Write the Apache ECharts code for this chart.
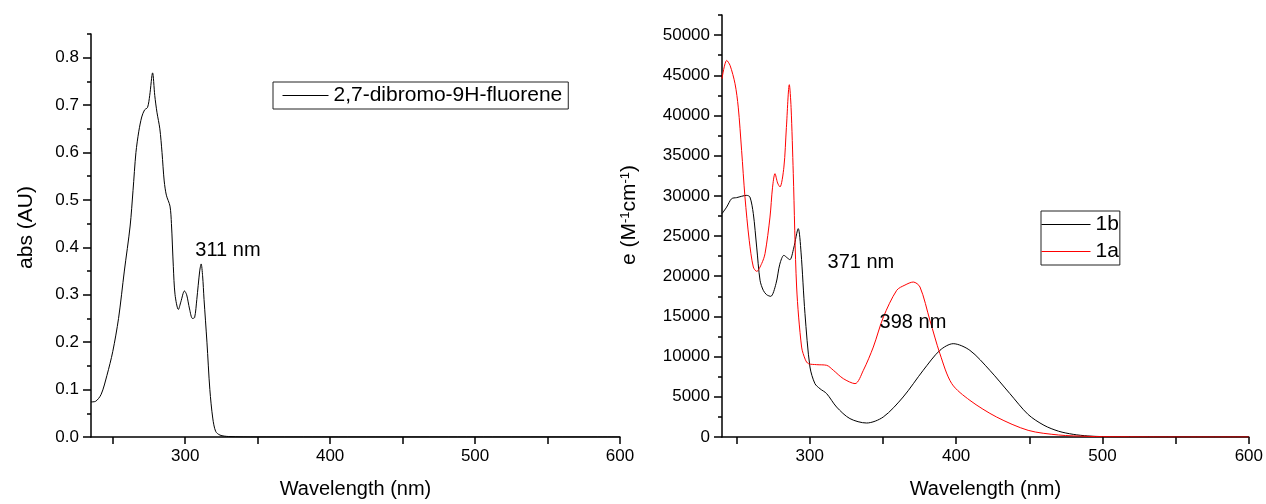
<!DOCTYPE html>
<html>
<head>
<meta charset="utf-8">
<script src="https://cdn.jsdelivr.net/npm/echarts@6.0.0/dist/echarts.min.js"></script>
<style>
html,body{margin:0;padding:0;background:#fff;}
#chart{width:1266px;height:504px;}
</style>
</head>
<body>
<div id="chart"></div>
<script>
// ---------- Data ----------
// Left panel: 2,7-dibromo-9H-fluorene absorbance
const dbfName = '2,7-dibromo-9H-fluorene';
const dbfWl  = [235,238,242,246,250,254,258,262,264,266,268,270,272,274,275.5,277.5,279,280.5,282.5,284,285.5,287,289.5,290.5,291.8,293,295.3,297,299.5,301,303,305,306.5,308,310,311,312,313,315,317,319,321,324,330,350,400,450,500,550,600];
const dbfAbs = [0.074,0.075,0.09,0.13,0.18,0.25,0.35,0.445,0.52,0.60,0.645,0.675,0.69,0.695,0.72,0.768,0.72,0.685,0.65,0.60,0.54,0.51,0.487,0.45,0.36,0.30,0.269,0.285,0.308,0.30,0.27,0.25,0.252,0.29,0.35,0.365,0.34,0.29,0.2,0.1,0.04,0.012,0.004,0.001,0,0,0,0,0,0];

// Right panel: molar absorptivity
const s1bName = '1b';
const s1bWl  = [240,243.2,246.6,250,256.9,259.1,261.4,263.7,266,268.2,270.5,273.3,276.9,279.5,282.3,284.5,286.4,289,292.1,294,296.7,300.1,303.5,307,311.5,318.3,327.4,338.8,350.2,363.8,377.5,388.9,398,409.4,423,436.7,449.2,460,470,480,490,500,520,550,600];
const s1bEps = [27780,28610,29650,29780,30060,29850,27780,23630,19490,18250,17700,17500,19080,21500,22600,22300,22060,23500,25920,23000,15350,8710,6640,6000,5400,3730,2290,1740,2490,4980,8300,10780,11610,10780,8300,5400,2800,1460,720,330,130,50,5,0,0];

const s1aName = '1a';
const s1aWl  = [240,243.2,245.5,248.9,251.1,253.4,255.7,258.6,261.4,263.7,267.1,269.4,272.8,274.5,276.2,278,279.6,282.3,284,286,287.2,288.7,291,294.4,297,299,304.7,311.5,316.1,322.9,330.9,336.6,343.4,350.3,359.4,365,370.7,375.3,382.1,388.9,397,409.4,427.6,449.2,470,490,500,550,600];
const s1aEps = [44580,46850,46230,43950,41040,35660,29850,24470,21150,20610,21570,22810,27360,31000,32760,31600,31100,33580,38500,43830,41000,32800,18660,11190,9600,9130,9000,8920,8300,7260,6640,8300,11190,14930,18250,18900,19280,18660,14510,10370,6640,4560,2490,830,250,80,40,0,0];

// Tick values / labels
const leftXTicks  = [250,300,350,400,450,500,550,600];
const leftXLabels = [300,400,500,600];
const leftYMajor  = [0,0.1,0.2,0.3,0.4,0.5,0.6,0.7,0.8];
const leftYMinor  = [0.05,0.15,0.25,0.35,0.45,0.55,0.65,0.75,0.85];
const rightXTicks  = [250,300,350,400,450,500,550,600];
const rightXLabels = [300,400,500,600];
const rightYMajor  = [0,5000,10000,15000,20000,25000,30000,35000,40000,45000,50000];
const rightYMinor  = [2500,7500,12500,17500,22500,27500,32500,37500,42500,47500,52500];

// Annotations
const annoLeft  = [{text:'311 nm', x:329.5, y:0.394}];
const annoRight = [{text:'371 nm', x:334.9, y:21670},{text:'398 nm', x:370.5, y:14200}];

// ---------- Chart ----------
const FONT = "'Liberation Sans', Arial, sans-serif";
const zip = (a,b) => a.map((v,i)=>[v,b[i]]);
const axisLineStyle = {color:'#000', width:1.5};

function xAxisCfg(grid, min, max, ticks, labels){
  return {
    gridIndex: grid, type:'value', min:min, max:max,
    axisLine:{show:true, onZero:false, lineStyle:axisLineStyle},
    axisTick:{show:true, inside:false, length:7, customValues:ticks, lineStyle:axisLineStyle},
    axisLabel:{show:true, customValues:labels, fontSize:17, color:'#000', fontFamily:FONT, margin:11},
    splitLine:{show:false},
    name:'Wavelength (nm)', nameLocation:'middle', nameGap:42,
    nameTextStyle:{fontSize:20, color:'#000', fontFamily:FONT}
  };
}
function yMajorCfg(grid, min, max, ticks, fmt, name, gap, shift, rich){
  return {
    gridIndex: grid, type:'value', min:min, max:max, position:'left',
    axisLine:{show:true, onZero:false, lineStyle:axisLineStyle},
    axisTick:{show:true, inside:false, length:8, customValues:ticks, lineStyle:axisLineStyle},
    axisLabel:{show:true, customValues:ticks, formatter:fmt, fontSize:17, color:'#000', fontFamily:FONT, margin:12},
    splitLine:{show:false},
    name:name, nameLocation:'middle', nameGap:gap,
    nameTextStyle:Object.assign({fontSize:21, color:'#000', fontFamily:FONT, padding:[0,0,0,shift]}, rich ? {rich:rich} : {})
  };
}
function yMinorCfg(grid, min, max, ticks){
  return {
    gridIndex: grid, type:'value', min:min, max:max, position:'left', offset:0,
    axisLine:{show:false},
    axisTick:{show:true, inside:false, length:4, customValues:ticks, lineStyle:axisLineStyle},
    axisLabel:{show:false},
    splitLine:{show:false}
  };
}
function markPts(list){
  return {
    symbol:'circle', symbolSize:0,
    itemStyle:{color:'rgba(0,0,0,0)'},
    label:{show:true, position:'inside', formatter:'{b}', fontSize:20, color:'#000', fontFamily:FONT},
    data: list.map(a => ({name:a.text, coord:[a.x, a.y]}))
  };
}

const chart = echarts.init(document.getElementById('chart'), null, {renderer:'canvas'});
chart.setOption({
  animation:false,
  backgroundColor:'#fff',
  textStyle:{fontFamily:FONT, color:'#000'},
  grid:[
    {left:91, top:34, width:529, height:404},
    {left:722, top:15, width:527, height:422}
  ],
  xAxis:[
    xAxisCfg(0, 235, 600, leftXTicks, leftXLabels),
    xAxisCfg(1, 240, 600, rightXTicks, rightXLabels)
  ],
  yAxis:[
    yMajorCfg(0, 0, 0.85, leftYMajor, v => v.toFixed(1), 'abs (AU)', 54, 16),
    yMinorCfg(0, 0, 0.85, leftYMinor),
    yMajorCfg(1, 0, 52500, rightYMajor, v => String(v), 'e (M{s|-1}cm{s|-1})', 82, 22,
      {s:{fontSize:13, verticalAlign:'top', color:'#000', fontFamily:FONT}}),
    yMinorCfg(1, 0, 52500, rightYMinor)
  ],
  legend:[
    {
      data:[dbfName], left:273, top:82, orient:'horizontal',
      backgroundColor:'#fff', borderColor:'#222', borderWidth:1, borderRadius:0,
      padding:[3,6,3,9], itemWidth:46, itemHeight:14, itemGap:5,
      itemStyle:{opacity:0}, lineStyle:{width:1},
      textStyle:{fontSize:21, color:'#000', fontFamily:FONT}
    },
    {
      data:[s1bName, s1aName], left:1041, top:211, orient:'vertical',
      backgroundColor:'#fff', borderColor:'#222', borderWidth:1, borderRadius:0,
      padding:[3,1,3,0], itemWidth:49, itemHeight:14, itemGap:6,
      itemStyle:{opacity:0}, lineStyle:{width:1},
      textStyle:{fontSize:21, color:'#000', fontFamily:FONT}
    }
  ],
  series:[
    {
      name:dbfName, type:'line', xAxisIndex:0, yAxisIndex:0,
      data:zip(dbfWl, dbfAbs), symbol:'none', smooth:0.3,
      lineStyle:{color:'#000', width:1}, itemStyle:{color:'#000'},
      markPoint:markPts(annoLeft)
    },
    {
      name:s1bName, type:'line', xAxisIndex:1, yAxisIndex:2,
      data:zip(s1bWl, s1bEps), symbol:'none', smooth:0.3,
      lineStyle:{color:'#000', width:1}, itemStyle:{color:'#000'},
      markPoint:markPts(annoRight)
    },
    {
      name:s1aName, type:'line', xAxisIndex:1, yAxisIndex:2,
      data:zip(s1aWl, s1aEps), symbol:'none', smooth:0.3,
      lineStyle:{color:'#ff0000', width:1}, itemStyle:{color:'#ff0000'}
    }
  ]
});
</script>
</body>
</html>
